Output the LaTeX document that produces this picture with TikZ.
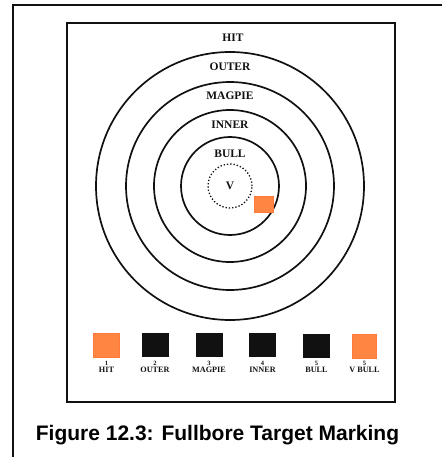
\documentclass[tikz,border=0pt]{standalone}
\usepackage{fontspec}
\setmainfont{Liberation Serif}
\newfontfamily\capfont{Liberation Sans}
\usepackage{tikz}
\usetikzlibrary{positioning}
\definecolor{hitorange}{HTML}{FF8642}
\definecolor{ink}{HTML}{111111}

\begin{document}
\begin{tikzpicture}[
    x=1pt, y=-1pt,
    every node/.style={inner sep=0pt, outer sep=0pt, align=center},
    ring/.style={draw=ink, circle, line width=1.7pt},
    v_ring/.style={draw=ink, circle, line width=1.3pt, dotted},
    ring_label/.style={font=\fontsize{11.5}{11.5}\selectfont\bfseries, text=ink},
    mark_box/.style={fill=ink, minimum width=27pt, minimum height=24pt},
    hit_box/.style={fill=hitorange, draw=hitorange!90!red, minimum width=26pt, minimum height=24pt},
    num_label/.style={font=\fontsize{6.5}{6.5}\selectfont\bfseries, text=ink},
    key_label/.style={font=\fontsize{8.2}{8.2}\selectfont\bfseries, text=ink}
]
  \useasboundingbox (0,0) rectangle (441,457);

  % Frame and target card
  \draw[line width=1.5pt, ink] (13,460) -- (13,5) -- (445,5);
  \node[draw=ink, line width=1.6pt, minimum width=328pt, minimum height=379pt] (card) at (231,212.5) {};

  % Scoring rings
  \coordinate (centre) at (230,186);
  \node[ring, minimum size=268pt] (outer_ring) at (centre) {};
  \node[ring, minimum size=208pt] (magpie_ring) at (centre) {};
  \node[ring, minimum size=152pt] (inner_ring) at (centre) {};
  \node[ring, minimum size=98pt] (bull_ring) at (centre) {};
  \node[v_ring, minimum size=44pt] (v_ring) at (centre) {};

  % Ring names
  \node[ring_label] (hit_lbl) at (233,38) {HIT};
  \node[ring_label] (outer_lbl) at (230,67) {OUTER};
  \node[ring_label] (magpie_lbl) at (230,96) {MAGPIE};
  \node[ring_label] (inner_lbl) at (230,125) {INNER};
  \node[ring_label] (bull_lbl) at (230,154) {BULL};
  \node[ring_label] (v_lbl) at (centre) {V};

  % Shot marker
  \node[hit_box, minimum width=19pt, minimum height=16pt] (shot) at (264,204.5) {};

  % Marking discs
  \node[hit_box] (key_hit) at (106.5,345) {};
  \node[mark_box] (key_outer) at (155,345) {};
  \node[mark_box] (key_magpie) at (209,345) {};
  \node[mark_box] (key_inner) at (262.5,345) {};
  \node[mark_box] (key_bull) at (316.5,345.5) {};
  \node[hit_box, minimum width=24pt] (key_vbull) at (364.5,346) {};

  \node[num_label, below=4.5pt of key_hit] (num_hit) {1};
  \node[num_label, below=4.5pt of key_outer] (num_outer) {2};
  \node[num_label, below=4.5pt of key_magpie] (num_magpie) {3};
  \node[num_label, below=4.5pt of key_inner] (num_inner) {4};
  \node[num_label, below=4pt of key_bull] (num_bull) {5};
  \node[num_label, below=3.5pt of key_vbull] (num_vbull) {5};

  \node[key_label, below=1.5pt of num_hit] (name_hit) {HIT};
  \node[key_label, below=1.5pt of num_outer] (name_outer) {OUTER};
  \node[key_label, below=1.5pt of num_magpie] (name_magpie) {MAGPIE};
  \node[key_label, below=1.5pt of num_inner] (name_inner) {INNER};
  \node[key_label, below=1.5pt of num_bull] (name_bull) {BULL};
  \node[key_label, below=1.5pt of num_vbull] (name_vbull) {V BULL};

  % Caption
  \node[font=\capfont\fontsize{21}{21}\selectfont\bfseries] (caption) at (217.5,435) {Figure 12.3: Fullbore Target Marking};

\end{tikzpicture}
\end{document}
